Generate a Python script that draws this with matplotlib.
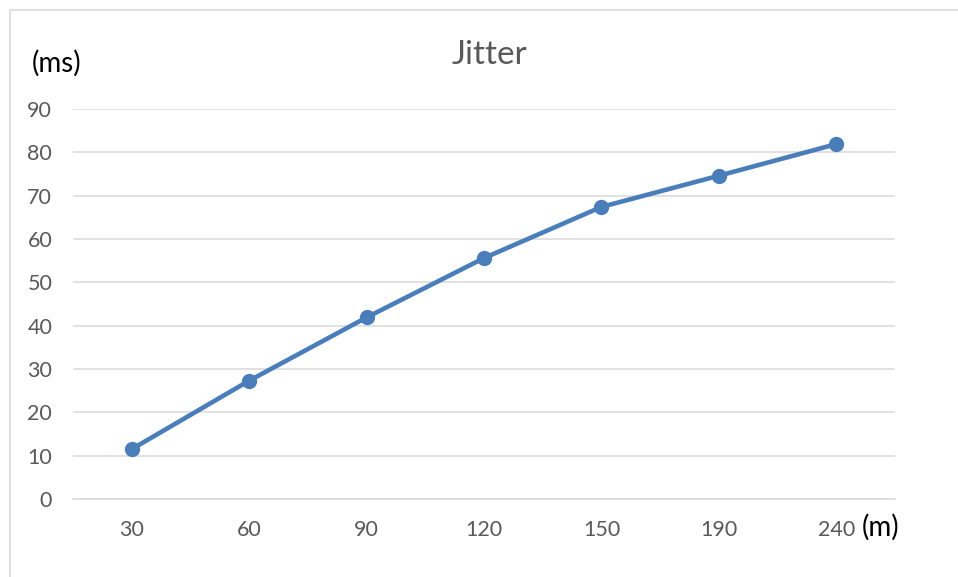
import matplotlib
matplotlib.use("Agg")
import matplotlib.pyplot as plt
from matplotlib.patches import Rectangle

# data
distance = ["30", "60", "90", "120", "150", "190", "240"]
jitter = [11.5, 27.3, 41.9, 55.6, 67.4, 74.6, 81.9]
yticks = [0, 10, 20, 30, 40, 50, 60, 70, 80, 90]

plt.rcParams['font.family'] = ['Lato', 'DejaVu Sans']

W, H = 958, 577
fig = plt.figure(figsize=(W / 100, H / 100), dpi=100)
fig.patch.set_facecolor("white")

# light border round the chart area (runs off right/bottom like the screenshot)
fig.patches.append(Rectangle((10 / W, -0.1), 1.2, 1 - 10 / H + 0.1,
                             transform=fig.transFigure, fill=False,
                             edgecolor="#d9d9d9", linewidth=1.2))

ax = fig.add_axes([73 / W, (H - 499) / H, (895 - 73) / W, (499 - 109) / H])
x = range(len(distance))
ax.plot(x, jitter, color="#4a7ebb", linewidth=3.3, marker="o",
        markersize=10, solid_capstyle="round", zorder=3)

ax.set_xlim(-0.5, len(distance) - 0.5)
ax.set_ylim(0, 90)
ax.set_yticks(yticks)
ax.set_xticks(list(x))
ax.set_xticklabels(distance)
ax.grid(axis="y", color="#d9d9d9", linewidth=1.1)
ax.set_axisbelow(True)
for s in ["top", "right", "left"]:
    ax.spines[s].set_visible(False)
ax.spines["bottom"].set_color("#d9d9d9")
ax.spines["bottom"].set_linewidth(1.1)
ax.tick_params(length=0, labelsize=15.5, colors="#595959")
ax.tick_params(axis="x", pad=15)
ax.tick_params(axis="y", pad=15)

fig.text(489 / W, 1 - 55 / H, "Jitter", ha="center", va="center",
         fontsize=24, color="#595959")
fig.text(32 / W, 1 - 63 / H, "(ms)", ha="left", va="center",
         fontsize=20, color="black")
fig.text(862 / W, 1 - 527 / H, "(m)", ha="left", va="center",
         fontsize=20, color="black")

fig.savefig("out.png", dpi=100)
